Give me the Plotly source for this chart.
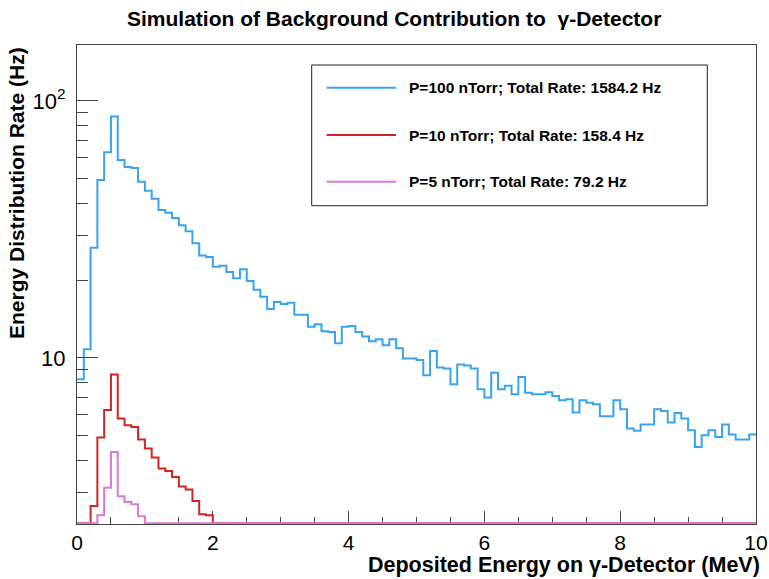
import plotly.graph_objects as go
import math

# ---------------- data ----------------
BIN_LOW = 0.0
BIN_HIGH = 10.0
N_BINS = 100

# P = 100 nTorr (Hz per 0.1 MeV bin)
rate_100 = [
    8.26, 10.8, 26.8, 49.2, 63.1, 86.9, 58.9, 55.3, 54.8, 48.5,
    44.7, 41.6, 37.6, 36.7, 35.0, 32.8, 31.1, 27.9, 25.0, 24.7,
    22.6, 22.8, 21.6, 20.4, 22.1, 19.9, 18.4, 17.3, 15.5, 16.5,
    16.2, 16.4, 14.7, 14.7, 13.2, 13.5, 12.7, 12.6, 11.4, 13.2,
    13.3, 12.6, 12.1, 11.6, 11.8, 11.2, 11.8, 10.9, 9.95, 9.95,
    9.80, 8.56, 10.62, 9.17, 9.09, 7.90, 9.42, 9.34, 9.09, 7.55,
    7.01, 8.74, 7.55, 7.78, 7.22, 8.43, 7.31, 7.22, 7.22, 7.35,
    7.11, 6.84, 6.90, 6.13, 6.84, 6.68, 6.60, 5.93, 5.93, 6.84,
    6.31, 5.31, 5.20, 5.50, 5.50, 6.31, 6.21, 5.60, 6.10, 5.81,
    5.23, 4.50, 5.00, 5.23, 4.92, 5.50, 5.03, 4.81, 4.81, 5.03,
]

# P = 10 nTorr (0 = below the visible axis minimum)
rate_10 = [
    0, 0, 2.65, 4.90, 6.26, 8.62, 5.81, 5.47, 5.38, 4.81,
    4.44, 4.09, 3.71, 3.63, 3.44, 3.16, 3.07, 2.77, 2.46, 2.44,
] + [0] * 80

# P = 5 nTorr
rate_5 = [0, 0, 0, 2.44, 3.12, 4.30, 2.89, 2.75, 2.69, 2.42] + [0] * 90

series_names = [
    "P=100 nTorr; Total Rate: 1584.2 Hz",
    "P=10 nTorr; Total Rate: 158.4 Hz",
    "P=5 nTorr; Total Rate: 79.2 Hz",
]
series_colors = ["#38a4ee", "#d02424", "#d878d8"]

x_ticks = [0, 2, 4, 6, 8, 10]
y_ticks = [10, 100]
y_ticktext = ["10", "10<sup>2</sup>"]
y_minor = [3, 4, 5, 6, 7, 8, 9, 20, 30, 40, 50, 60, 70, 80, 90]

Y_MIN = 2.256
Y_MAX = 165.0

# ---------------- figure ----------------
W, H = 769, 579
PL, PR, PT, PB = 77, 756, 45, 524


def px(xp):
    return (xp - PL) / (PR - PL)


def py(yp):
    return (PB - yp) / (PB - PT)


# values under the axis minimum are drawn on the bottom edge (ROOT style),
# nudged by under a pixel so the 2px line stays inside the frame
px_per_decade = (PB - PT) / (math.log10(Y_MAX) - math.log10(Y_MIN))
Y_FLOOR = 10 ** (math.log10(Y_MIN) + 0.8 / px_per_decade)

bw = (BIN_HIGH - BIN_LOW) / N_BINS
edges = [BIN_LOW + i * bw for i in range(N_BINS)] + [BIN_HIGH]

fig = go.Figure()
for vals, name, col in zip([rate_100, rate_10, rate_5], series_names, series_colors):
    yv = [max(v, Y_FLOOR) for v in vals]
    yv = yv + [yv[-1]]
    fig.add_trace(go.Scatter(
        x=edges, y=yv, mode="lines", name=name,
        line=dict(color=col, width=2, shape="hv"),
        cliponaxis=False, showlegend=False, hoverinfo="skip",
    ))

axis_col = "#444444"
fig.update_layout(
    width=W, height=H,
    margin=dict(l=PL, r=W - PR, t=PT, b=H - PB, pad=0, autoexpand=False),
    paper_bgcolor="white", plot_bgcolor="white",
    font=dict(family="Liberation Sans, Arial, sans-serif", color="black"),
    xaxis=dict(
        range=[BIN_LOW, BIN_HIGH], tickvals=x_ticks, ticktext=[str(t) for t in x_ticks],
        ticks="inside", ticklen=13, tickwidth=1, tickcolor=axis_col,
        showline=True, linecolor=axis_col, linewidth=1, mirror=True,
        showgrid=False, zeroline=False, automargin=False, layer="below traces",
        tickfont=dict(size=21),
        minor=dict(dtick=0.5, tick0=0, ticks="inside", ticklen=7, tickcolor=axis_col, showgrid=False),
    ),
    yaxis=dict(
        type="log", range=[math.log10(Y_MIN), math.log10(Y_MAX)],
        tickmode="array", tickvals=y_ticks, ticktext=y_ticktext,
        ticks="inside", ticklen=21, tickwidth=1, tickcolor=axis_col,
        showline=True, linecolor=axis_col, linewidth=1, mirror=True,
        showgrid=False, zeroline=False, automargin=False,
        tickfont=dict(size=22), ticklabelstandoff=6,
        minor=dict(tickmode="array", tickvals=y_minor, ticks="inside", ticklen=11,
                   tickcolor=axis_col, showgrid=False),
    ),
    showlegend=False,
)

ann = []
ann.append(dict(text="<b>Simulation of Background Contribution to  γ-Detector</b>",
                x=px(393.5), y=py(18), xref="paper", yref="paper",
                xanchor="center", yanchor="middle", showarrow=False,
                font=dict(size=21)))
ann.append(dict(text="<b>Deposited Energy on γ-Detector (MeV)</b>",
                x=px(762), y=py(565), xref="paper", yref="paper",
                xanchor="right", yanchor="middle", showarrow=False,
                font=dict(size=21.5)))
ann.append(dict(text="<b>Energy Distribution Rate (Hz)</b>",
                x=px(16), y=py(45), xref="paper", yref="paper",
                xanchor="center", yanchor="top", showarrow=False, textangle=-90,
                font=dict(size=21)))

shapes = [dict(type="rect", xref="paper", yref="paper",
               x0=px(311.7), x1=px(707.3), y0=py(205.7), y1=py(65),
               line=dict(color="#222222", width=1), fillcolor="white", layer="above")]
leg_y = [87.7, 135, 181.7]
for name, col, ly in zip(series_names, series_colors, leg_y):
    shapes.append(dict(type="line", xref="paper", yref="paper",
                       x0=px(326.7), x1=px(396), y0=py(ly), y1=py(ly),
                       line=dict(color=col, width=2), layer="above"))
    ann.append(dict(text="<b>" + name + "</b>", x=px(407), y=py(ly),
                    xref="paper", yref="paper", xanchor="left", yanchor="middle",
                    showarrow=False, font=dict(size=15.5)))

fig.update_layout(annotations=ann, shapes=shapes)
fig.write_html("out.html")
